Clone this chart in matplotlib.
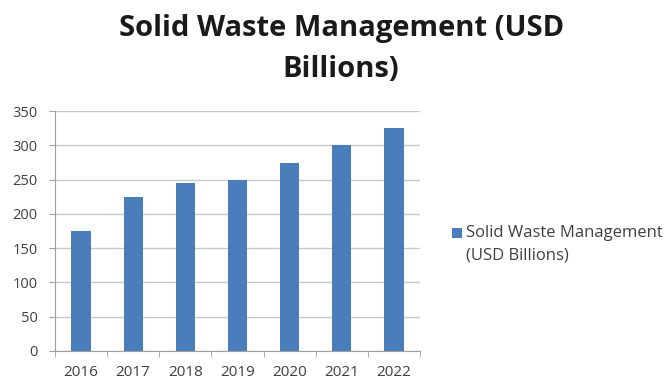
import matplotlib
matplotlib.use("Agg")
import matplotlib.pyplot as plt
from matplotlib.patches import Rectangle
import numpy as np

years = ["2016", "2017", "2018", "2019", "2020", "2021", "2022"]
values = [175, 225, 245, 250, 275, 300, 325]
series_name = "Solid Waste Management\n(USD Billions)"
title_lines = ["Solid Waste Management (USD", "Billions)"]
bar_color = "#4A7EBB"

plt.rcParams['font.family'] = ['Open Sans', 'DejaVu Sans']

fig = plt.figure(figsize=(6.7, 3.83), dpi=100)
ax = fig.add_axes([0.082, 0.0836, 0.545, 0.626])

x = np.arange(len(years))
bars = ax.bar(x, values, width=0.37, color=bar_color, zorder=3, label=series_name)

ax.set_ylim(0, 350)
ax.set_yticks(range(0, 351, 50))
ax.set_xlim(-0.5, len(years) - 0.5)
ax.set_xticks(x)
ax.set_xticklabels(years)
ax.set_xticks(np.arange(-0.5, len(years)), minor=True)
ax.tick_params(axis='x', which='major', length=0, pad=10, labelsize=11, colors="#404040")
ax.tick_params(axis='x', which='minor', length=4.5, color="#A0A0A0")
ax.tick_params(axis='y', length=4.5, color="#A0A0A0", labelsize=10.5, colors="#404040", pad=8)
ax.grid(axis='y', color="#C8C8C8", linewidth=1, zorder=0)

for s in ['top', 'right']:
    ax.spines[s].set_visible(False)
for s in ['left', 'bottom']:
    ax.spines[s].set_color("#A0A0A0")

fig.text(0.51, 0.906, title_lines[0], ha='center', va='baseline', fontsize=21,
         fontweight='bold', color="#1a1a1a")
fig.text(0.509, 0.799, title_lines[1], ha='center', va='baseline', fontsize=21,
         fontweight='bold', color="#1a1a1a")

# Legend (square aligned with first text line, as in the reference)
W, H = 670.0, 383.0
fig.patches.append(Rectangle((452 / W, 1 - 238 / H), 10 / W, 10 / H,
                             transform=fig.transFigure, facecolor=bar_color,
                             edgecolor='none', figure=fig))
fig.text(466 / W, 1 - 225 / H, series_name, ha='left', va='top', fontsize=12,
         color="#404040", linespacing=1.5)

fig.savefig("out.png", dpi=100)
